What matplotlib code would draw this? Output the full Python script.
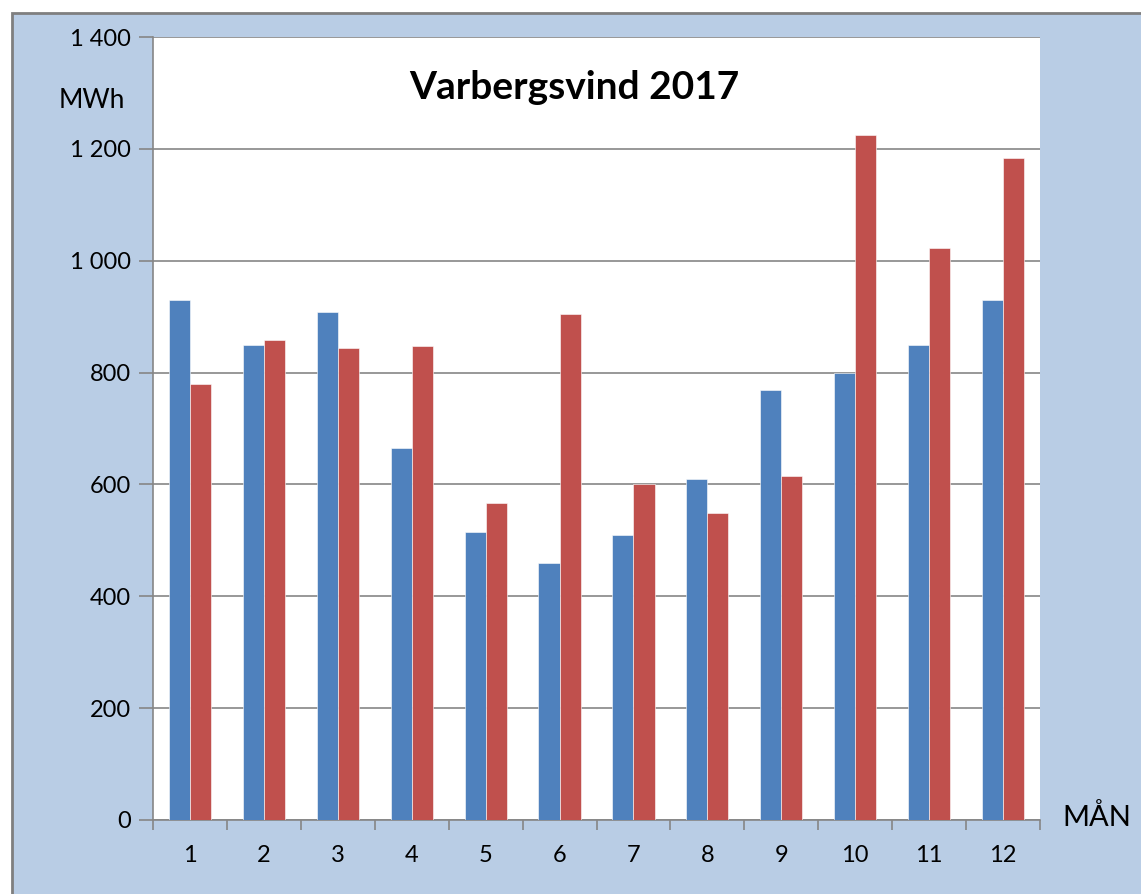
import numpy as np
import matplotlib.pyplot as plt
from matplotlib.patches import Rectangle
from matplotlib.ticker import FuncFormatter

months = ['1', '2', '3', '4', '5', '6', '7', '8', '9', '10', '11', '12']
blue_vals = [930, 849, 908, 665, 515, 460, 510, 610, 769, 799, 849, 930]
red_vals = [780, 858, 844, 847, 567, 905, 601, 549, 615, 1225, 1023, 1184]

plt.rcParams['font.family'] = ['Lato', 'DejaVu Sans']

fig = plt.figure(figsize=(11.41, 8.94), dpi=100)
fig.patch.set_facecolor('white')

# blå bakgrund med grå kant upptill och till vänster
bg = Rectangle((12 / 1141, -0.01), 1.0, (894 - 13) / 894 + 0.01,
               transform=fig.transFigure, facecolor='#B9CDE5',
               edgecolor='#7F7F7F', linewidth=2, zorder=-10)
fig.patches.append(bg)

ax = fig.add_axes([153 / 1141, 74 / 894, 887 / 1141, 783 / 894])
ax.set_facecolor('white')

x = np.arange(len(months))
w = 0.285
ax.bar(x - w / 2, blue_vals, w, color='#4F81BD', edgecolor='white', linewidth=0.4, zorder=3)
ax.bar(x + w / 2, red_vals, w, color='#C0504D', edgecolor='white', linewidth=0.4, zorder=3)

ax.set_xlim(-0.5, 11.5)
ax.set_ylim(0, 1400)
ax.set_yticks(range(0, 1401, 200))
ax.yaxis.set_major_formatter(FuncFormatter(lambda v, p: f'{int(v):,}'.replace(',', ' ')))
ax.grid(axis='y', color='#868686', linewidth=1.2, zorder=0)

ax.set_xticks(x)
ax.set_xticklabels(months)
ax.set_xticks(np.arange(-0.5, 12, 1), minor=True)
ax.tick_params(axis='x', which='major', length=0, pad=18, labelsize=17)
ax.tick_params(axis='x', which='minor', length=7, color='#868686', width=1.2)
ax.tick_params(axis='y', length=10, color='#868686', width=1.2, pad=6, labelsize=17)

for s in ['top', 'right']:
    ax.spines[s].set_visible(False)
for s in ['left', 'bottom']:
    ax.spines[s].set_color('#868686')
    ax.spines[s].set_linewidth(1.2)

ax.text(0.475, 0.935, 'Varbergsvind 2017', transform=ax.transAxes,
        ha='center', va='center', fontsize=28, fontweight='bold')
fig.text(92 / 1141, 1 - 100 / 894, 'MWh', ha='center', va='center', fontsize=19)
fig.text(1097 / 1141, 1 - 818 / 894, 'MÅN', ha='center', va='center', fontsize=21)

fig.savefig('out.png', dpi=100)
